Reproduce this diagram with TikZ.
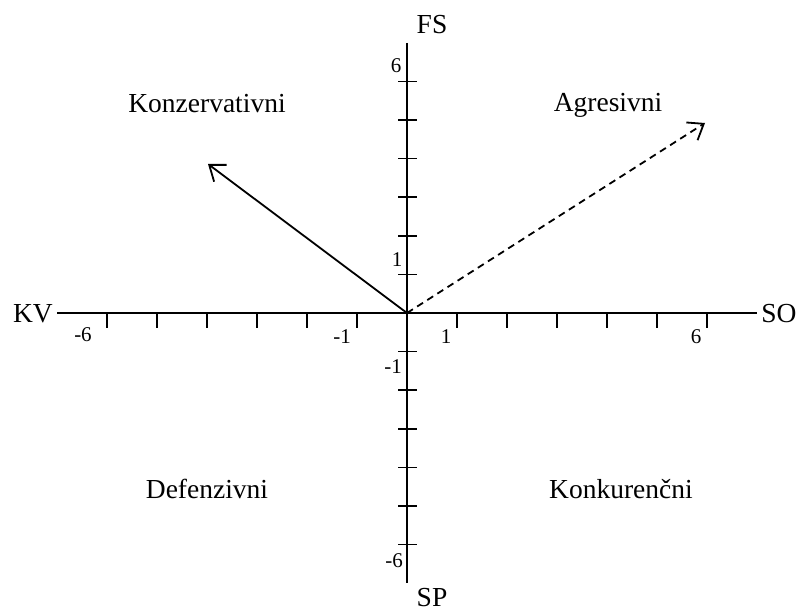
\documentclass[tikz,border=0pt]{standalone}
\usepackage{fontspec}
\setmainfont{Liberation Serif}
\usetikzlibrary{arrows.meta}
\begin{document}
\begin{tikzpicture}[x=1pt,y=-1pt,
  axis/.style={line width=1.8pt,black},
  tickmark/.style={line width=1.6pt},
  biglabel/.style={font=\fontsize{27.5}{27.5}\selectfont, inner sep=0pt, anchor=base},
  ticklabel/.style={font=\fontsize{21}{21}\selectfont, inner sep=0pt, anchor=base},
  vec/.style={line width=1.8pt,-{Straight Barb[length=14pt,width=21pt,line width=1.8pt]}},
  dashvec/.style={vec,dash pattern=on 7pt off 5pt}
]
\useasboundingbox (0,0) rectangle (802,612);
\coordinate (O) at (407,313);
\coordinate (xl) at (57,313);
\coordinate (xr) at (757,313);
\coordinate (yt) at (407,43);
\coordinate (yb) at (407,583);
\draw[axis] (xl) -- (xr);
\draw[axis] (yt) -- (yb);
\foreach \k in {-6,-5,-4,-3,-2,-1,1,2,3,4,5,6} {
  \draw[tickmark] (407+\k*50,313) -- (407+\k*50,328);
  \draw[tickmark] (398,313-\k*38.6) -- (417,313-\k*38.6);
}
% axis labels
\node[biglabel] (KV) at (33,322) {KV};
\node[biglabel] (SO) at (779,322) {SO};
\node[biglabel] (FS) at (432,34) {FS};
\node[biglabel] (SP) at (432,606) {SP};
% tick labels
\node[ticklabel] (xm6) at (83,341) {-6};
\node[ticklabel] (xm1) at (342,343) {-1};
\node[ticklabel] (xp1) at (446,343) {1};
\node[ticklabel] (xp6) at (696,343) {6};
\node[ticklabel] (yp1) at (397,266) {1};
\node[ticklabel] (ym1) at (393,373) {-1};
\node[ticklabel] (yp6) at (396,73) {6};
\node[ticklabel] (ym6) at (394,567) {-6};
% quadrant labels
\node[biglabel] (kon) at (207,113) {Konzervativni};
\node[biglabel] (agr) at (608,112) {Agresivni};
\node[biglabel] (def) at (207,498) {Defenzivni};
\node[biglabel] (kur) at (621,498) {Konkurenčni};
% vectors
\coordinate (A1) at (208,164);
\coordinate (A2) at (705,123);
\draw[vec] (O) -- (A1);
\draw[dashvec] (O) -- (A2);
\end{tikzpicture}
\end{document}
